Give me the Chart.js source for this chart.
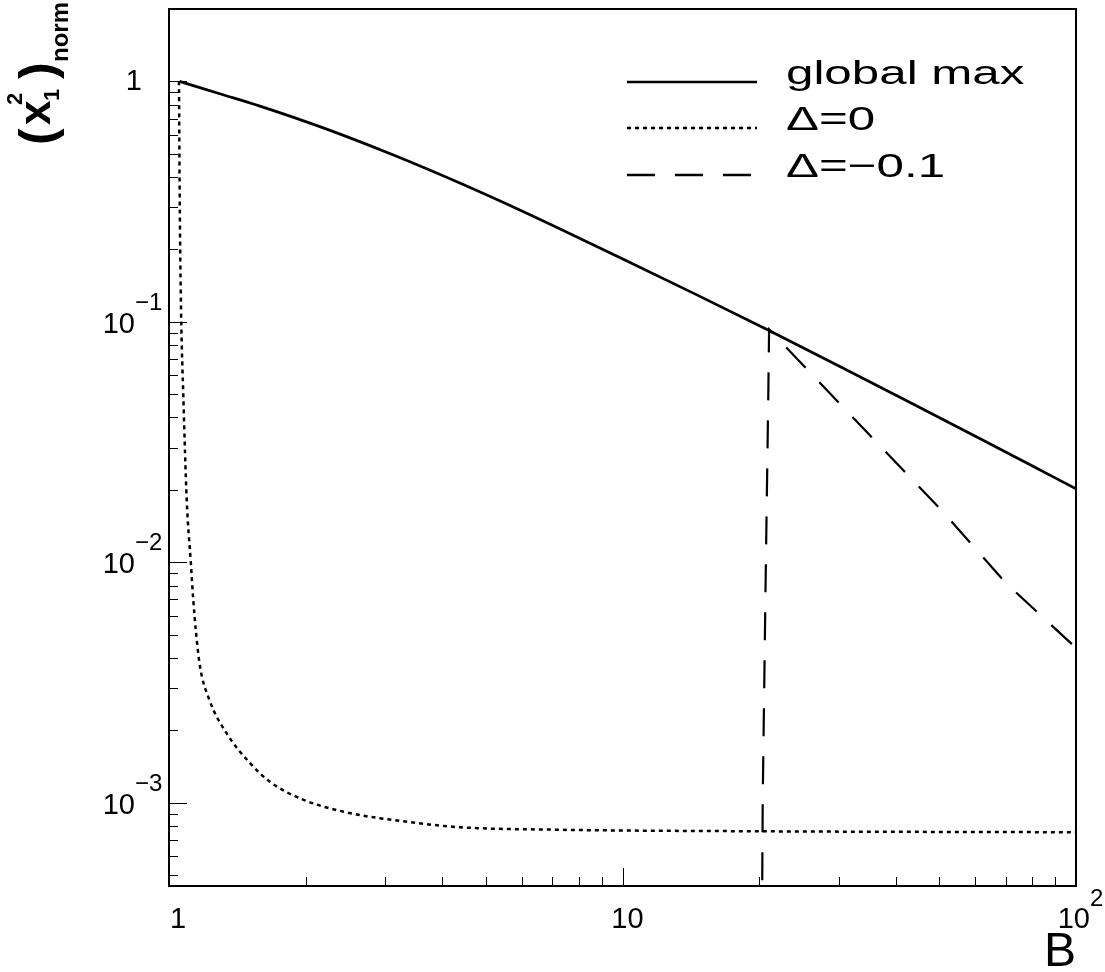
<!DOCTYPE html>
<html>
<head>
<meta charset="utf-8">
<script src="https://cdn.jsdelivr.net/npm/chart.js@4.4.0/dist/chart.umd.min.js"></script>
<style>
  html, body { margin: 0; padding: 0; background: #fff; }
</style>
</head>
<body>
<canvas id="chart" width="1105" height="972"></canvas>
<script>
// global max curve
const globalB = [1.055, 1.3, 1.587, 2.227, 3.125, 4.39, 6.15, 9.86, 14.4, 21.1, 30, 41, 60, 80, 100];
const globalV = [1.0, 0.886, 0.789, 0.633, 0.494, 0.377, 0.283, 0.185, 0.131, 0.0918, 0.0655, 0.0484, 0.0334, 0.0252, 0.0202];

// Delta = 0 curve
const zeroB = [1.052, 1.056, 1.063, 1.076, 1.094, 1.117, 1.131, 1.147, 1.170, 1.225, 1.340, 1.509, 1.670, 1.974, 2.469, 3.395, 4.38, 7.0, 20.1, 100];
const zeroV = [1.0, 0.32, 0.113, 0.0476, 0.0183, 0.0100, 0.0070, 0.0051, 0.0037, 0.0027, 0.00194, 0.00146, 0.00122, 0.00103, 0.00091, 0.00083, 0.00079, 0.000772, 0.00076, 0.000753];

// Delta = -0.1 curve
const negB = [20.3, 20.38, 20.71, 20.96, 21.05, 30, 50, 70, 100];
const negV = [0.0003, 0.00103, 0.01, 0.048, 0.093, 0.046, 0.0168, 0.0082, 0.0044];

const legendLabels = ['global max', '\u0394=0', '\u0394=\u22120.1'];

const xMin = 1, xMax = 100;
const yMin = 4.5e-4, yMax = 2.0;
const xMajorTicks = [1, 10, 100];
const yMajorTicks = [1, 0.1, 0.01, 0.001];
const yTickExp = ['', '\u22121', '\u22122', '\u22123'];

const pts = (xs, ys) => xs.map((x, i) => ({ x, y: ys[i] }));

const minorTicks = (lo, hi) => {
  const out = [];
  for (let e = -4; e <= 2; e++) {
    for (let m = 2; m <= 9; m++) {
      const v = m * Math.pow(10, e);
      if (v > lo && v < hi) out.push(v);
    }
  }
  return out;
};

const FONT = '"Liberation Sans", Arial, sans-serif';
const TICKFONT = '"Liberation Sans Narrow", "Liberation Sans", Arial, sans-serif';

const rootAxes = {
  id: 'rootAxes',
  afterDraw(chart) {
    const ctx = chart.ctx;
    const a = chart.chartArea;
    const xs = chart.scales.x, ys = chart.scales.y;
    ctx.save();
    ctx.strokeStyle = '#000';
    ctx.fillStyle = '#000';

    // frame
    ctx.lineWidth = 2;
    ctx.strokeRect(a.left, a.top, a.right - a.left, a.bottom - a.top);

    // ticks (inside the frame, left and bottom only)
    ctx.lineWidth = 1;
    ctx.beginPath();
    yMajorTicks.forEach(v => {
      const y = Math.round(ys.getPixelForValue(v)) + 0.5;
      ctx.moveTo(a.left, y); ctx.lineTo(a.left + 18, y);
    });
    minorTicks(yMin, yMax).forEach(v => {
      const y = Math.round(ys.getPixelForValue(v)) + 0.5;
      ctx.moveTo(a.left, y); ctx.lineTo(a.left + 9, y);
    });
    xMajorTicks.forEach(v => {
      const x = Math.round(xs.getPixelForValue(v)) + 0.5;
      ctx.moveTo(x, a.bottom); ctx.lineTo(x, a.bottom - 18);
    });
    minorTicks(xMin, xMax).forEach(v => {
      const x = Math.round(xs.getPixelForValue(v)) + 0.5;
      ctx.moveTo(x, a.bottom); ctx.lineTo(x, a.bottom - 9);
    });
    ctx.stroke();

    // y tick labels
    ctx.textBaseline = 'alphabetic';
    yMajorTicks.forEach((v, i) => {
      const y = ys.getPixelForValue(v);
      ctx.font = '29px ' + TICKFONT;
      ctx.textAlign = 'right';
      if (!yTickExp[i]) {
        ctx.fillText('1', a.left - 27, y + 9);
      } else {
        ctx.fillText('10', a.left - 34, y + 11);
        ctx.font = '24px ' + TICKFONT;
        ctx.textAlign = 'left';
        ctx.fillText(yTickExp[i], a.left - 34, y - 12);
      }
    });

    // x tick labels
    const xl = a.bottom + 42;
    ctx.font = '29px ' + TICKFONT;
    ctx.textAlign = 'center';
    ctx.fillText('1', xs.getPixelForValue(1) + 9, xl);
    ctx.fillText('10', xs.getPixelForValue(10) + 5, xl);
    ctx.textAlign = 'right';
    ctx.fillText('10', xs.getPixelForValue(100) + 14, xl);
    ctx.font = '24px ' + TICKFONT;
    ctx.textAlign = 'left';
    ctx.fillText('2', xs.getPixelForValue(100) + 14, xl - 22);

    // x title
    ctx.font = '48px ' + FONT;
    ctx.textAlign = 'right';
    ctx.fillText('B', a.right, 966);

    // y title, rotated
    ctx.save();
    ctx.translate(50, 145);
    ctx.rotate(-Math.PI / 2);
    ctx.textAlign = 'left';
    ctx.font = 'bold 50px ' + FONT;
    ctx.fillText('(', 0, 4);
    ctx.fillText(')', 66, 4);
    ctx.font = 'bold 44px ' + FONT;
    ctx.fillText('x', 20, 0);
    ctx.font = 'bold 22px ' + FONT;
    ctx.fillText('2', 40, -28);
    ctx.fillText('1', 44, 9);
    ctx.font = 'bold 24px ' + FONT;
    ctx.fillText('norm', 83, 18);
    ctx.restore();

    // legend
    const legY = [82, 128, 175];
    chart.data.datasets.slice().reverse().forEach((ds, i) => {
      ctx.lineWidth = 2.5;
      ctx.setLineDash(ds.borderDash || []);
      ctx.beginPath();
      ctx.moveTo(627, legY[i]); ctx.lineTo(757, legY[i]);
      ctx.stroke();
      ctx.setLineDash([]);
      ctx.save();
      ctx.translate(786, legY[i] + 2);
      ctx.scale(1.45, 1);
      ctx.font = '34px ' + FONT;
      ctx.textAlign = 'left';
      ctx.fillText(legendLabels[i], 0, 0);
      ctx.restore();
    });

    ctx.restore();
  }
};

new Chart(document.getElementById('chart'), {
  type: 'scatter',
  data: {
    datasets: [
      { label: legendLabels[2], data: pts(negB, negV), showLine: true, borderColor: '#000', borderWidth: 2.2, borderDash: [28, 20], pointRadius: 0, tension: 0 },
      { label: legendLabels[1], data: pts(zeroB, zeroV), showLine: true, borderColor: '#000', borderWidth: 2.5, borderDash: [4, 4], pointRadius: 0, cubicInterpolationMode: 'monotone' },
      { label: legendLabels[0], data: pts(globalB, globalV), showLine: true, borderColor: '#000', borderWidth: 2.7, pointRadius: 0, cubicInterpolationMode: 'monotone' }
    ]
  },
  options: {
    responsive: false,
    animation: false,
    devicePixelRatio: 1,
    layout: { padding: { left: 169, top: 9, right: 29, bottom: 86 } },
    plugins: { legend: { display: false }, tooltip: { enabled: false } },
    scales: {
      x: { type: 'logarithmic', min: xMin, max: xMax, display: false },
      y: { type: 'logarithmic', min: yMin, max: yMax, display: false }
    }
  },
  plugins: [rootAxes]
});
</script>
</body>
</html>
